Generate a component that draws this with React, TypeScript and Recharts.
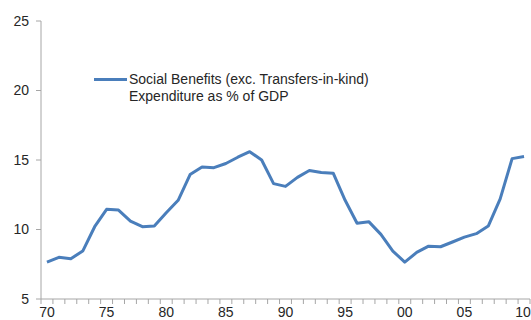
import { LineChart, Line, XAxis, YAxis, Legend } from 'recharts'

// Social benefits (excluding transfers in kind), % of GDP, 1970-2010
const years = [
  1970, 1971, 1972, 1973, 1974, 1975, 1976, 1977, 1978, 1979,
  1980, 1981, 1982, 1983, 1984, 1985, 1986, 1987, 1988, 1989,
  1990, 1991, 1992, 1993, 1994, 1995, 1996, 1997, 1998, 1999,
  2000, 2001, 2002, 2003, 2004, 2005, 2006, 2007, 2008, 2009, 2010,
]
const benefits = [
  7.66, 8.0, 7.9, 8.45, 10.2, 11.45, 11.4, 10.6, 10.2, 10.25,
  11.2, 12.1, 13.95, 14.5, 14.45, 14.75, 15.2, 15.6, 15.0, 13.3,
  13.1, 13.75, 14.25, 14.1, 14.05, 12.1, 10.45, 10.55, 9.65, 8.45,
  7.65, 8.35, 8.8, 8.76, 9.1, 9.45, 9.7, 10.25, 12.2, 15.1, 15.25,
]
const yTicks = [5, 10, 15, 20, 25]
const seriesName = [
  'Social Benefits (exc. Transfers-in-kind)',
  'Expenditure as % of GDP',
]

const data = years.map((year, i) => ({ year, value: benefits[i] }))

const W = 531
const H = 320
const Y_AXIS_W = 41
const RIGHT = 1
const STEP = (W - Y_AXIS_W - RIGHT) / years.length
const AXIS = '#a6a6a6'
const TEXT = '#262626'
const BLUE = '#4a7ebb'
const FONT = '"Liberation Sans", Arial, sans-serif'

// tick marks sit between years, labels every fifth year
function YearTick({ x, y, payload }: any) {
  const yr = payload.value as number
  const top = y - 7
  return (
    <g>
      <line x1={x - STEP / 2} x2={x - STEP / 2} y1={top} y2={top + 5} stroke={AXIS} />
      {yr === years[years.length - 1] && (
        <line x1={x + STEP / 2} x2={x + STEP / 2} y1={top} y2={top + 5} stroke={AXIS} />
      )}
      {yr % 5 === 0 && (
        <text x={Math.min(x, W - 8)} y={top + 18} textAnchor="middle" fill={TEXT} fontSize={14} fontFamily={FONT}>
          {String(yr % 100).padStart(2, '0')}
        </text>
      )}
    </g>
  )
}

function LegendBox() {
  return (
    <div style={{ display: 'flex', alignItems: 'flex-start', fontFamily: FONT, fontSize: 14, color: TEXT, lineHeight: '17px' }}>
      <div style={{ width: 33, height: 3, background: BLUE, marginTop: 7, marginRight: 2 }} />
      <div>
        {seriesName.map(t => (
          <div key={t}>{t}</div>
        ))}
      </div>
    </div>
  )
}

export default function App() {
  return (
    <div style={{ position: 'absolute', left: 0, top: 0, width: W, height: H, background: '#fff', overflow: 'hidden' }}>
      <LineChart width={W} height={H} data={data} margin={{ top: 21, right: RIGHT, bottom: 0, left: 0 }}>
        <XAxis
          dataKey="year"
          type="number"
          domain={[years[0] - 0.5, years[years.length - 1] + 0.5]}
          ticks={years}
          interval={0}
          height={21}
          tickSize={5}
          tickMargin={2}
          tickLine={false}
          axisLine={{ stroke: AXIS }}
          tick={<YearTick />}
        />
        <YAxis
          domain={[5, 25]}
          ticks={yTicks}
          width={Y_AXIS_W}
          tickSize={5}
          tickMargin={7}
          axisLine={{ stroke: AXIS }}
          tickLine={{ stroke: AXIS }}
          tick={{ fill: TEXT, fontSize: 14, fontFamily: FONT }}
        />
        <Legend
          layout="vertical"
          verticalAlign="middle"
          align="center"
          content={() => <LegendBox />}
          wrapperStyle={{ top: 71, left: 94, width: 340 }}
        />
        <Line
          type="linear"
          dataKey="value"
          stroke={BLUE}
          strokeWidth={3}
          strokeLinejoin="round"
          dot={false}
          isAnimationActive={false}
        />
      </LineChart>
    </div>
  )
}
